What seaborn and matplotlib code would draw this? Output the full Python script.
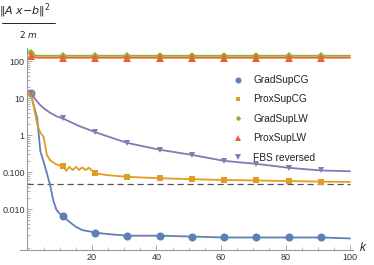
import numpy as np
import pandas as pd
import seaborn as sns
import matplotlib
matplotlib.use("Agg")
from matplotlib import pyplot as plt
from matplotlib.lines import Line2D
from matplotlib.ticker import FixedLocator, FixedFormatter, LogLocator, MultipleLocator, NullFormatter

# iterations k and objective values
k_grad_cg = [1, 2, 3, 4, 5, 6, 7, 8, 9, 10, 11, 13, 15, 17, 19, 21, 25, 31, 41, 51, 61, 71, 81, 91, 100]
grad_cg = [14, 6.0, 2.9, 0.36, 0.19, 0.094, 0.045, 0.017, 0.0094, 0.0075, 0.0065, 0.0045,
           0.0033, 0.0027, 0.0025, 0.0023, 0.0021, 0.0019, 0.0019, 0.0018, 0.0017, 0.0017,
           0.0017, 0.0017, 0.0016]

k_prox_cg = [1, 2, 3, 4, 5, 6, 7, 8, 9, 10, 11, 12, 13, 14, 15, 16, 17, 18, 19, 20, 21,
             25, 31, 41, 51, 61, 71, 81, 91, 100]
prox_cg = [14, 5.4, 2.0, 1.15, 0.9, 0.29, 0.21, 0.18, 0.16, 0.15, 0.147, 0.108, 0.138, 0.113,
           0.138, 0.113, 0.134, 0.113, 0.13, 0.11, 0.092, 0.082, 0.074, 0.068, 0.064, 0.061,
           0.059, 0.057, 0.055, 0.054]

k_lw = [1, 2, 3, 11, 21, 31, 41, 51, 61, 71, 81, 91, 100]
grad_lw = [160, 145, 139, 139, 139, 139, 139, 139, 139, 139, 139, 139, 139]
prox_lw = [140, 128, 123, 123, 123, 123, 123, 123, 123, 123, 123, 123, 123]

k_fbs = [1, 2, 3, 4, 5, 6, 7, 8, 9, 10, 11, 16, 21, 26, 31, 41, 51, 61, 71, 81, 91, 100]
fbs = [14, 10.5, 8.0, 6.4, 5.3, 4.6, 4.0, 3.6, 3.2, 3.0, 2.8, 1.75, 1.2, 0.85, 0.61, 0.4,
       0.29, 0.2, 0.166, 0.13, 0.11, 0.105]

target = 0.048
marker_k = [1, 11, 21, 31, 41, 51, 61, 71, 81, 91]

series = [
    ("GradSupCG", k_grad_cg, grad_cg, "#5E81B5", "o", 5.8),
    ("ProxSupCG", k_prox_cg, prox_cg, "#E19C24", "s", 4.2),
    ("GradSupLW", k_lw, grad_lw, "#8FB032", "D", 3.8),
    ("ProxSupLW", k_lw, prox_lw, "#EB6235", "^", 5.5),
    ("FBS reversed", k_fbs, fbs, "#8778B3", "v", 5.0),
]

sns.set_style("ticks")
plt.rcParams["font.family"] = ["Liberation Sans", "DejaVu Sans"]
plt.rcParams["mathtext.fontset"] = "dejavusans"

fig = plt.figure(figsize=(3.74, 2.65), dpi=100)
ax = fig.add_axes([0.0545, 0.0566, 0.890, 0.762])

for name, ks, vals, col, mk, ms in series:
    df = pd.DataFrame({"k": ks, "v": vals})
    idx = [i for i, kk in enumerate(ks) if kk in marker_k]
    sns.lineplot(data=df, x="k", y="v", ax=ax, color=col, lw=1.3, marker=mk,
                 markersize=ms, markeredgewidth=0, markevery=idx, legend=False)

ax.plot([0, 100], [target, target], color="#555555", lw=0.9, ls=(0, (5, 3)), zorder=0)

ax.set_yscale("log")
ax.set_xlim(-2.2, 101)
ax.set_ylim(0.00078, 224)
ax.set_xlabel("")
ax.set_ylabel("")

ax.yaxis.set_major_locator(FixedLocator([0.01, 0.1, 1, 10, 100]))
ax.yaxis.set_major_formatter(FixedFormatter(["0.010", "0.100", "1", "10", "100"]))
ax.yaxis.set_minor_locator(LogLocator(base=10, subs=np.arange(2, 10)))
ax.yaxis.set_minor_formatter(NullFormatter())
ax.xaxis.set_major_locator(FixedLocator([20, 40, 60, 80, 100]))
ax.xaxis.set_minor_locator(MultipleLocator(5))

for s in ["top", "right"]:
    ax.spines[s].set_visible(False)
ax.spines["left"].set_position(("data", 0))
for s in ["left", "bottom"]:
    ax.spines[s].set_color("#999999")
    ax.spines[s].set_linewidth(0.8)
ax.tick_params(which="major", direction="in", length=3.5, width=0.6, color="#999999",
               labelsize=6.5, labelcolor="#333333", pad=2)
ax.tick_params(which="minor", direction="in", length=2, width=0.5, color="#999999")

handles = [Line2D([], [], ls="none", marker=mk, color=col, markersize=ms * 0.75, markeredgewidth=0)
           for name, ks, vals, col, mk, ms in series]
ax.legend(handles, [s[0] for s in series], loc="upper left", bbox_to_anchor=(228 / 374, 1 - 70 / 265),
          bbox_transform=fig.transFigure, frameon=False, fontsize=7.3, handlelength=1.0,
          handletextpad=1.0, labelspacing=0.93, borderpad=0, labelcolor="#222222")

# axis labels in the Mathematica style
fig.text(360 / 374, 1 - 248 / 265, "k", fontsize=8.5, style="italic", ha="left", va="center")
fig.text(25 / 374, 1 - 11 / 265, r"$\Vert A\;x\!-\!b\Vert^{2}$", fontsize=8, ha="center", va="center")
fig.add_artist(Line2D([2 / 374, 55 / 374], [1 - 23 / 265, 1 - 23 / 265], color="black", lw=0.6))
fig.text(28 / 374, 1 - 34 / 265, r"$2\;m$", fontsize=6.5, ha="center", va="center")

fig.savefig("out.png", dpi=100)
